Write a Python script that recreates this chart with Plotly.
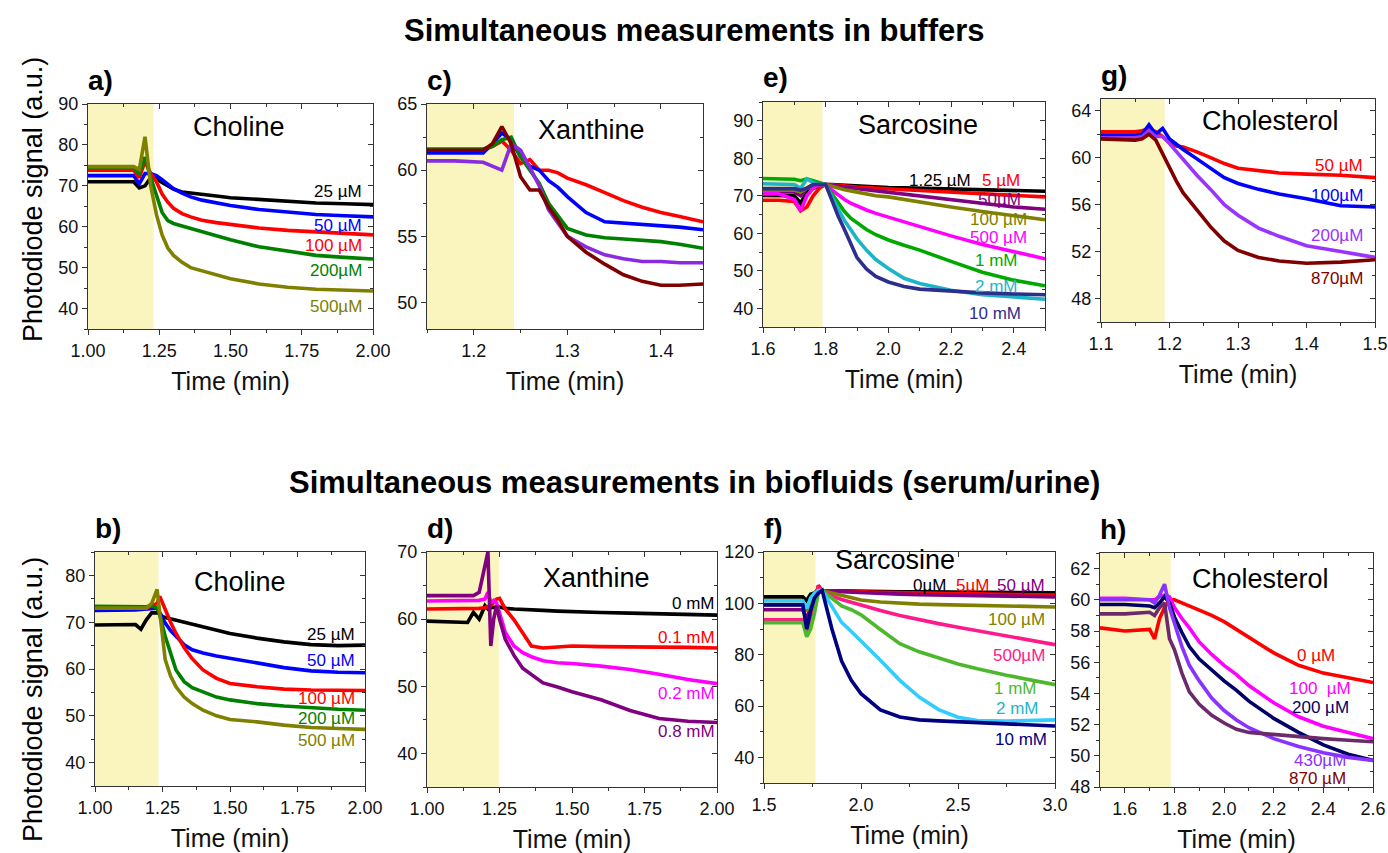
import plotly.graph_objects as go

W, H = 1388, 853
FONT = "Arial, Liberation Sans, sans-serif"

# ---------------- Panel a) Choline (buffer) ----------------
A_T = [1.00, 1.10, 1.16, 1.18, 1.20, 1.22, 1.24, 1.26, 1.28, 1.30, 1.33, 1.36, 1.40, 1.45, 1.50, 1.60, 1.70, 1.80, 1.90, 2.00]
A_25 = [71.0, 71.0, 71.0, 69.5, 70.0, 72.0, 71.8, 70.8, 69.9, 69.2, 68.5, 68.2, 67.9, 67.5, 67.1, 66.6, 66.2, 65.8, 65.6, 65.4]
A_50 = [72.5, 72.5, 72.5, 70.5, 73.0, 73.0, 72.5, 71.5, 70.3, 69.3, 68.2, 67.3, 66.5, 65.8, 65.2, 64.2, 63.5, 63.0, 62.7, 62.4]
A_100 = [73.8, 73.8, 73.8, 72.0, 76.0, 73.0, 71.0, 68.0, 66.0, 64.5, 63.2, 62.4, 61.6, 61.0, 60.5, 59.7, 59.1, 58.8, 58.3, 58.0]
A_200 = [74.4, 74.4, 74.4, 73.0, 77.0, 72.0, 67.5, 63.5, 61.5, 60.8, 60.2, 59.6, 58.6, 57.6, 56.8, 55.1, 54.0, 53.0, 52.5, 52.1]
A_500 = [74.7, 74.7, 74.7, 74.0, 82.0, 70.0, 63.0, 58.0, 54.8, 53.0, 51.3, 50.0, 49.2, 48.2, 47.3, 46.0, 45.2, 44.7, 44.4, 44.3]

# ---------------- Panel c) Xanthine (buffer) ----------------
C_T = [1.15, 1.18, 1.21, 1.22, 1.23, 1.24, 1.25, 1.26, 1.27, 1.28, 1.29, 1.30, 1.32, 1.34, 1.36, 1.38, 1.40, 1.42, 1.445]
C_100U = [61.5, 61.5, 61.5, 61.8, 62.2, 61.5, 60.5, 60.8, 60.0, 60.0, 59.8, 59.4, 58.9, 58.3, 57.7, 57.2, 56.8, 56.5, 56.1]
C_02 = [61.3, 61.3, 61.3, 62.0, 62.8, 62.3, 61.0, 60.3, 60.0, 59.2, 58.7, 58.0, 56.8, 56.1, 56.0, 55.9, 55.8, 55.7, 55.5]
C_04 = [61.6, 61.6, 61.6, 61.8, 62.3, 62.5, 61.0, 60.0, 59.0, 57.5, 56.5, 55.6, 55.1, 54.9, 54.8, 54.7, 54.6, 54.4, 54.1]
C_08 = [60.7, 60.7, 60.6, 60.3, 60.0, 62.0, 61.5, 60.2, 58.8, 57.0, 56.0, 55.0, 54.2, 53.6, 53.3, 53.1, 53.1, 53.0, 53.0]
C_16 = [61.5, 61.5, 61.5, 62.0, 63.3, 62.0, 59.5, 58.5, 58.5, 57.2, 56.2, 55.0, 53.8, 52.9, 52.1, 51.6, 51.3, 51.3, 51.4]

# ---------------- Panel e) Sarcosine (buffer) ----------------
E_T = [1.60, 1.65, 1.70, 1.72, 1.74, 1.76, 1.78, 1.80, 1.82, 1.84, 1.86, 1.88, 1.90, 1.93, 1.96, 2.00, 2.05, 2.10, 2.20, 2.30, 2.40, 2.50]
E_125U = [70.1, 70.1, 70.0, 68.0, 71.0, 72.0, 72.5, 73.0, 73.0, 72.9, 72.8, 72.7, 72.6, 72.5, 72.4, 72.2, 72.1, 72.0, 71.8, 71.6, 71.4, 71.2]
E_5U = [68.8, 68.8, 68.5, 66.0, 67.0, 70.0, 72.0, 73.0, 72.9, 72.7, 72.5, 72.4, 72.3, 72.2, 72.0, 71.9, 71.6, 71.4, 70.9, 70.5, 70.1, 69.7]
E_50U = [71.0, 71.0, 71.0, 70.0, 72.0, 73.0, 73.0, 73.0, 72.7, 72.5, 72.2, 72.0, 71.8, 71.5, 71.2, 71.0, 70.5, 70.0, 68.8, 67.8, 67.0, 66.4]
E_100U = [71.5, 71.5, 71.5, 71.0, 72.0, 72.5, 73.0, 73.0, 72.5, 72.0, 71.6, 71.3, 71.0, 70.5, 70.0, 69.7, 69.0, 68.4, 67.0, 65.8, 64.6, 63.6]
E_500U = [70.5, 70.5, 69.0, 66.0, 70.0, 72.0, 73.0, 73.0, 71.5, 70.2, 69.0, 68.0, 67.2, 66.2, 65.3, 64.3, 63.0, 61.8, 59.3, 57.0, 55.0, 53.2]
E_1M = [74.6, 74.6, 74.4, 74.0, 74.5, 74.0, 73.5, 73.0, 70.5, 68.0, 65.8, 64.0, 62.8, 61.0, 59.6, 58.2, 56.8, 55.5, 52.5, 49.6, 47.5, 46.0]
E_2M = [73.2, 73.2, 73.0, 72.0, 74.5, 73.5, 73.0, 73.0, 69.5, 66.5, 63.4, 61.0, 58.5, 55.5, 53.0, 50.6, 48.0, 46.6, 44.8, 43.6, 42.9, 42.4]
E_10M = [71.9, 71.9, 71.9, 71.5, 72.0, 73.0, 73.0, 73.0, 68.8, 64.5, 61.0, 57.0, 53.5, 50.5, 48.5, 47.0, 45.8, 45.1, 44.5, 44.1, 43.8, 43.6]

# ---------------- Panel g) Cholesterol (buffer) ----------------
G_T = [1.10, 1.13, 1.15, 1.16, 1.17, 1.18, 1.19, 1.20, 1.21, 1.22, 1.24, 1.26, 1.28, 1.30, 1.33, 1.36, 1.40, 1.45, 1.50]
G_50 = [62.2, 62.2, 62.2, 62.3, 62.5, 62.2, 61.8, 61.3, 61.0, 60.9, 60.5, 60.0, 59.5, 59.1, 58.9, 58.7, 58.6, 58.5, 58.3]
G_100 = [61.9, 61.9, 61.9, 62.0, 62.8, 62.0, 62.5, 61.6, 61.1, 60.7, 59.9, 59.1, 58.3, 57.8, 57.3, 56.9, 56.5, 55.9, 55.8]
G_200 = [61.7, 61.7, 61.7, 61.8, 62.3, 61.8, 61.8, 61.2, 60.5, 59.8, 58.5, 57.3, 56.0, 55.1, 54.0, 53.3, 52.5, 52.0, 51.5]
G_870 = [61.6, 61.5, 61.5, 61.6, 62.0, 61.5, 60.3, 59.2, 58.0, 57.0, 55.5, 54.1, 52.9, 52.1, 51.5, 51.2, 51.0, 51.1, 51.3]

# ---------------- Panel b) Choline (biofluid) ----------------
B_T = [1.00, 1.10, 1.15, 1.17, 1.19, 1.21, 1.23, 1.24, 1.25, 1.26, 1.28, 1.30, 1.33, 1.36, 1.40, 1.45, 1.50, 1.60, 1.70, 1.80, 1.90, 2.00]
B_25 = [69.4, 69.4, 69.5, 68.5, 70.5, 72.0, 72.0, 71.8, 71.2, 71.0, 70.7, 70.5, 70.0, 69.6, 69.1, 68.3, 67.6, 66.6, 65.8, 65.2, 65.0, 65.1]
B_50 = [72.5, 72.5, 72.6, 72.7, 72.8, 73.0, 73.0, 72.0, 70.8, 69.8, 68.2, 66.9, 65.2, 64.1, 63.4, 62.8, 62.3, 61.2, 60.3, 59.6, 59.3, 59.2]
B_100 = [73.0, 73.0, 73.0, 73.0, 73.0, 73.5, 74.0, 75.5, 74.1, 72.5, 70.0, 67.6, 64.6, 62.2, 59.8, 58.0, 56.9, 56.2, 55.7, 55.5, 55.5, 55.4]
B_200 = [73.4, 73.4, 73.4, 73.3, 73.3, 73.5, 73.0, 71.5, 69.1, 67.0, 63.4, 59.8, 57.3, 56.0, 55.1, 54.0, 53.4, 52.6, 52.1, 51.7, 51.4, 51.2]
B_500 = [73.0, 73.0, 73.0, 73.0, 73.0, 74.0, 77.0, 72.0, 66.0, 62.0, 58.5, 56.2, 54.0, 52.6, 51.2, 50.0, 49.2, 48.7, 48.0, 47.5, 47.3, 47.1]

# ---------------- Panel d) Xanthine (biofluid) ----------------
D_T = [1.00, 1.10, 1.14, 1.16, 1.18, 1.20, 1.21, 1.22, 1.23, 1.24, 1.25, 1.27, 1.30, 1.33, 1.36, 1.40, 1.45, 1.50, 1.60, 1.70, 1.80, 1.90, 2.00]
D_0 = [59.7, 59.5, 59.5, 61.0, 60.0, 62.0, 61.5, 61.7, 61.8, 61.8, 61.8, 61.6, 61.5, 61.4, 61.3, 61.3, 61.2, 61.1, 61.0, 60.9, 60.8, 60.7, 60.6]
D_01 = [61.5, 61.5, 61.5, 61.6, 61.6, 61.7, 61.8, 62.0, 62.5, 63.0, 63.1, 61.5, 59.9, 57.9, 56.0, 55.7, 55.8, 56.0, 55.9, 55.9, 55.8, 55.8, 55.7]
D_02 = [62.7, 62.7, 62.7, 62.7, 62.8, 63.0, 64.0, 62.5, 62.8, 62.4, 61.0, 58.0, 56.0, 55.0, 54.4, 53.8, 53.5, 53.4, 53.0, 52.5, 51.8, 51.0, 50.4]
D_08 = [63.5, 63.5, 63.5, 63.5, 64.0, 68.0, 70.0, 56.0, 60.0, 62.0, 60.0, 57.0, 54.6, 52.7, 51.7, 50.5, 49.9, 49.2, 48.0, 46.4, 45.2, 44.8, 44.6]

# ---------------- Panel f) Sarcosine (biofluid) ----------------
F_T = [1.50, 1.60, 1.70, 1.72, 1.74, 1.76, 1.78, 1.80, 1.85, 1.90, 1.95, 2.00, 2.10, 2.20, 2.30, 2.40, 2.50, 2.60, 2.75, 3.00]
F_0 = [102.5, 102.5, 102.5, 101.0, 103.5, 104.0, 105.5, 105.0, 104.9, 104.8, 104.8, 104.7, 104.6, 104.5, 104.5, 104.4, 104.3, 104.3, 104.2, 104.1]
F_5U = [93.5, 93.5, 93.5, 88.0, 95.0, 100.0, 107.0, 105.0, 104.8, 104.7, 104.6, 104.5, 104.3, 104.1, 104.0, 103.9, 103.8, 103.7, 103.5, 103.2]
F_50U = [97.5, 97.5, 97.5, 94.0, 99.0, 103.0, 105.0, 105.0, 104.7, 104.5, 104.3, 104.1, 103.8, 103.6, 103.4, 103.2, 103.1, 103.0, 102.8, 102.5]
F_100U = [99.5, 99.5, 99.5, 97.0, 100.0, 103.0, 105.0, 105.0, 104.0, 103.0, 102.1, 101.3, 100.5, 100.0, 99.7, 99.5, 99.3, 99.1, 98.9, 98.6]
F_500U = [93.6, 93.6, 93.6, 88.0, 92.0, 100.0, 106.0, 105.0, 102.8, 101.5, 100.4, 99.3, 97.2, 95.3, 93.6, 92.1, 90.7, 89.3, 87.2, 83.9]
F_1M = [92.5, 92.5, 92.5, 87.0, 90.0, 96.0, 104.0, 105.0, 102.0, 99.0, 97.5, 95.5, 89.8, 84.3, 81.1, 78.7, 76.4, 74.5, 72.0, 68.3]
F_2M = [101.0, 101.0, 101.0, 98.0, 102.0, 104.0, 105.0, 105.0, 99.0, 92.6, 89.0, 85.3, 77.8, 70.0, 63.5, 58.6, 55.6, 54.3, 54.1, 54.6]
F_10M = [99.4, 99.4, 99.4, 90.0, 97.0, 102.0, 104.0, 105.0, 90.0, 77.5, 70.0, 64.8, 58.5, 55.7, 54.6, 54.2, 53.9, 53.7, 53.3, 52.2]

# ---------------- Panel h) Cholesterol (biofluid) ----------------
H_T = [1.50, 1.60, 1.70, 1.72, 1.74, 1.76, 1.78, 1.80, 1.83, 1.86, 1.90, 1.95, 2.00, 2.05, 2.10, 2.20, 2.30, 2.40, 2.50, 2.60]
H_0 = [58.2, 58.0, 58.1, 57.5, 58.8, 59.5, 60.0, 60.0, 59.8, 59.6, 59.3, 59.0, 58.6, 58.1, 57.6, 56.6, 55.8, 55.3, 55.0, 54.7]
H_100 = [60.1, 60.1, 60.0, 60.0, 60.2, 60.3, 60.2, 59.5, 58.8, 58.2, 57.3, 56.5, 55.8, 55.2, 54.5, 53.4, 52.5, 51.9, 51.5, 51.1]
H_200 = [59.7, 59.7, 59.6, 59.5, 59.8, 60.2, 59.8, 58.9, 57.9, 57.0, 56.2, 55.5, 54.8, 54.2, 53.5, 52.4, 51.5, 50.7, 50.1, 49.7]
H_430 = [60.0, 60.0, 60.0, 59.8, 60.3, 61.0, 59.5, 58.5, 57.0, 55.8, 54.8, 53.7, 52.9, 52.3, 51.8, 51.1, 50.6, 50.2, 49.9, 49.7]
H_870 = [59.1, 59.1, 59.2, 59.0, 59.5, 59.8, 57.5, 56.8, 55.3, 54.1, 53.3, 52.6, 52.1, 51.7, 51.5, 51.35, 51.25, 51.1, 51.0, 50.9]

# ---------------- panel definitions ----------------
panels = [
    dict(letter="a)", title="Choline", title_xy=(1.53, 84.3), xr=[1.0, 2.0], yr=[35, 90], shade=1.23,
         dx=(88, 373), dy=(104, 329), xt=dict(dtick=0.25, tickformat=".2f", minor=0.125), yt=dict(dtick=10, minor=5),
         series=[(A_T, A_25, "#000000"), (A_T, A_50, "#0000FF"), (A_T, A_100, "#FF0000"),
                 (A_T, A_200, "#008000"), (A_T, A_500, "#808000")],
         labels=[("25 µM", 68.6, "#000000"), ("50 µM", 60.3, "#0000FF"), ("100 µM", 55.4, "#FF0000"),
                 ("200µM", 49.4, "#008000"), ("500µM", 40.6, "#808000")], lx=1.97),
    dict(letter="c)", title="Xanthine", title_xy=(1.326, 63.0), xr=[1.15, 1.445], yr=[48, 65], shade=1.243,
         dx=(427, 703), dy=(104, 329), xt=dict(dtick=0.1, tickformat=".1f", minor=0.05), yt=dict(dtick=5, minor=2.5),
         series=[(C_T, C_100U, "#FF0000"), (C_T, C_02, "#0000FF"), (C_T, C_04, "#008000"),
                 (C_T, C_08, "#8A2BE2"), (C_T, C_16, "#800000")],
         labels=[("100 µM", 57.4, "#FF0000"), ("0.2 mM", 55.2, "#0000FF"), ("0.4 mM", 53.8, "#008000"),
                 ("0.8 mM", 52.2, "#8A2BE2"), ("1.6 mM", 50.1, "#800000")], lx=1.447),
    dict(letter="e)", title="Sarcosine", title_xy=(2.096, 88.8), xr=[1.6, 2.5], yr=[35, 95], shade=1.79,
         dx=(763, 1045), dy=(102, 327), xt=dict(dtick=0.2, tickformat=".1f", minor=0.1), yt=dict(dtick=10, minor=5),
         series=[(E_T, E_125U, "#000000"), (E_T, E_5U, "#FF0000"), (E_T, E_50U, "#800080"),
                 (E_T, E_100U, "#808000"), (E_T, E_500U, "#FF00FF"), (E_T, E_1M, "#00A800"),
                 (E_T, E_2M, "#1EB4C8"), (E_T, E_10M, "#2E2E8C")],
         labels=[("1.25 µM", 74.0, "#000000", 2.27), ("5 µM", 74.0, "#FF0000", 2.425),
                 ("50µM", 68.9, "#800080", 2.43), ("100 µM", 63.7, "#808000", 2.45),
                 ("500 µM", 58.9, "#FF00FF", 2.45), ("1 mM", 52.6, "#00A800", 2.42),
                 ("2 mM", 45.7, "#1EB4C8", 2.42), ("10 mM", 38.6, "#2E2E8C", 2.43)], lx=None),
    dict(letter="g)", title="Cholesterol", title_xy=(1.347, 63.1), xr=[1.1, 1.5], yr=[46, 65], shade=1.193,
         dx=(1101, 1375), dy=(99, 322), xt=dict(dtick=0.1, tickformat=".1f", minor=0.05), yt=dict(dtick=4, minor=2),
         series=[(G_T, G_50, "#FF0000"), (G_T, G_100, "#0000FF"), (G_T, G_200, "#9933FF"), (G_T, G_870, "#800000")],
         labels=[("50 µM", 59.3, "#FF0000"), ("100µM", 56.8, "#0000FF"), ("200µM", 53.4, "#9933FF"),
                 ("870µM", 49.7, "#800000")], lx=1.485),
    dict(letter="b)", title="Choline", title_xy=(1.536, 78.6), xr=[1.0, 2.0], yr=[35, 85], shade=1.235,
         dx=(95, 365), dy=(552, 786), xt=dict(dtick=0.25, tickformat=".2f", minor=0.125), yt=dict(dtick=10, minor=5),
         series=[(B_T, B_25, "#000000"), (B_T, B_50, "#0000FF"), (B_T, B_100, "#FF0000"),
                 (B_T, B_200, "#008000"), (B_T, B_500, "#808000")],
         labels=[("25 µM", 67.3, "#000000"), ("50 µM", 61.9, "#0000FF"), ("100 µM", 53.6, "#FF0000"),
                 ("200 µM", 49.4, "#008000"), ("500 µM", 44.8, "#808000")], lx=1.97),
    dict(letter="d)", title="Xanthine", title_xy=(1.583, 66.1), xr=[1.0, 2.0], yr=[35, 70], shade=1.248,
         dx=(427, 717), dy=(552, 787), xt=dict(dtick=0.25, tickformat=".2f", minor=0.125), yt=dict(dtick=10, minor=5),
         series=[(D_T, D_0, "#000000"), (D_T, D_01, "#FF0000"), (D_T, D_02, "#FF00FF"), (D_T, D_08, "#800080")],
         labels=[("0 mM", 62.4, "#000000"), ("0.1 mM", 57.2, "#FF0000"), ("0.2 mM", 49.0, "#FF00FF"),
                 ("0.8 mM", 43.2, "#800080")], lx=2.0),
    dict(letter="f)", title="Sarcosine", title_xy=(2.175, 117.0), xr=[1.5, 3.0], yr=[30, 120], shade=1.766,
         dx=(764, 1055), dy=(552, 783), xt=dict(dtick=0.5, tickformat=".1f", minor=0.25), yt=dict(dtick=20, minor=10),
         series=[(F_T, F_0, "#000000"), (F_T, F_5U, "#FF0000"), (F_T, F_50U, "#800080"),
                 (F_T, F_100U, "#808000"), (F_T, F_500U, "#FF1A8C"), (F_T, F_1M, "#4DB82E"),
                 (F_T, F_2M, "#33CCFF"), (F_T, F_10M, "#000080")],
         labels=[("0µM", 107.0, "#000000", 2.45), ("5µM", 107.0, "#FF0000", 2.67),
                 ("50 µM", 107.0, "#800080", 2.96), ("100 µM", 93.7, "#808000", 2.96),
                 ("500µM", 79.5, "#FF1A8C", 2.96), ("1 mM", 66.9, "#4DB82E", 2.92),
                 ("2 mM", 59.2, "#1EB4C8", 2.93), ("10 mM", 46.9, "#000080", 2.97)], lx=None),
    dict(letter="h)", title="Cholesterol", title_xy=(2.145, 61.35), xr=[1.5, 2.6], yr=[48, 63], shade=1.785,
         dx=(1100, 1373), dy=(553, 787), xt=dict(dtick=0.2, tickformat=".1f", minor=0.1), yt=dict(dtick=2, minor=1),
         series=[(H_T, H_0, "#FF0000"), (H_T, H_100, "#FF00FF"), (H_T, H_200, "#000066"),
                 (H_T, H_430, "#8833FF"), (H_T, H_870, "#6B2A6B")],
         labels=[("0 µM", 56.45, "#FF0000", 2.455), ("100  µM", 54.3, "#FF00FF", 2.52),
                 ("200 µM", 53.1, "#000066", 2.51), ("430µM", 49.7, "#8833FF", 2.50),
                 ("870 µM", 48.56, "#800000", 2.50)], lx=None),
]

fig = go.Figure()
layout = dict(width=W, height=H, margin=dict(l=0, r=0, t=0, b=0, pad=0, autoexpand=False), paper_bgcolor="white",
              plot_bgcolor="white", showlegend=False, font=dict(family=FONT, color="#111"))
shapes, annotations = [], []

AX = "#333"
axis_common = dict(showline=True, linecolor=AX, linewidth=1.3, mirror=True, ticks="outside",
                   ticklen=5, tickwidth=1.2, tickcolor=AX, showgrid=False, zeroline=False, automargin=False,
                   tickfont=dict(size=18, family=FONT, color="#111"))
mirror_common = dict(showline=False, ticks="inside", ticklen=5, tickwidth=1.2, tickcolor=AX, showgrid=False,
                     zeroline=False, automargin=False, showticklabels=False)

NP = len(panels)
for i, p in enumerate(panels):
    n = i + 1
    xn = "x" if n == 1 else f"x{n}"
    yn = "y" if n == 1 else f"y{n}"
    xa = "xaxis" if n == 1 else f"xaxis{n}"
    ya = "yaxis" if n == 1 else f"yaxis{n}"
    xdom = [p["dx"][0] / W, p["dx"][1] / W]
    ydom = [1 - p["dy"][1] / H, 1 - p["dy"][0] / H]
    layout[xa] = dict(axis_common, domain=xdom, range=p["xr"], anchor=yn,
                      dtick=p["xt"]["dtick"], tickformat=p["xt"]["tickformat"],
                      minor=dict(dtick=p["xt"]["minor"], ticks="outside", ticklen=3, tickcolor=AX),
                      title=dict(text="Time (min)", font=dict(size=25, family=FONT, color="#111"), standoff=12))
    layout[ya] = dict(axis_common, domain=ydom, range=p["yr"], anchor=xn,
                      dtick=p["yt"]["dtick"],
                      minor=dict(dtick=p["yt"]["minor"], ticks="outside", ticklen=3, tickcolor=AX))
    # inward ticks on top and right (overlay axes)
    mx, my = n + NP, n + NP
    layout[f"xaxis{mx}"] = dict(mirror_common, overlaying=xn, side="top", anchor=yn, range=p["xr"],
                                dtick=p["xt"]["dtick"],
                                minor=dict(dtick=p["xt"]["minor"], ticks="inside", ticklen=3, tickcolor=AX))
    layout[f"yaxis{my}"] = dict(mirror_common, overlaying=yn, side="right", anchor=xn, range=p["yr"],
                                dtick=p["yt"]["dtick"],
                                minor=dict(dtick=p["yt"]["minor"], ticks="inside", ticklen=3, tickcolor=AX))
    fig.add_trace(go.Scatter(x=[], y=[], xaxis=f"x{mx}", yaxis=yn, hoverinfo="skip"))
    fig.add_trace(go.Scatter(x=[], y=[], xaxis=xn, yaxis=f"y{my}", hoverinfo="skip"))

    shapes.append(dict(type="rect", xref=xn, yref=f"{yn} domain", x0=p["xr"][0], x1=p["shade"], y0=0, y1=1,
                       fillcolor="#FAF5BE", line=dict(width=0), layer="below"))
    for (t, v, c) in p["series"]:
        fig.add_trace(go.Scatter(x=t, y=v, mode="lines", line=dict(color=c, width=3.6),
                                 xaxis=xn, yaxis=yn, hoverinfo="skip"))
    for lab in p["labels"]:
        if len(lab) == 4:
            txt, ly, col, lx = lab
        else:
            txt, ly, col = lab
            lx = p["lx"]
        annotations.append(dict(x=lx, y=ly, xref=xn, yref=yn, text=txt, showarrow=False, xanchor="right",
                                yanchor="middle", font=dict(size=17, color=col, family=FONT)))
    annotations.append(dict(x=p["title_xy"][0], y=p["title_xy"][1], xref=xn, yref=yn, text=p["title"],
                            showarrow=False, xanchor="center", yanchor="middle",
                            font=dict(size=27, color="#000", family=FONT)))
    annotations.append(dict(x=(p["dx"][0] - 2) / W, y=1 - (p["dy"][0] - 24) / H, xref="paper", yref="paper",
                            text=f"<b>{p['letter']}</b>", showarrow=False, xanchor="left", yanchor="middle",
                            font=dict(size=28, color="#000", family=FONT)))

annotations.append(dict(x=694 / W, y=1 - 31 / H, xref="paper", yref="paper", xanchor="center", yanchor="middle",
                        text="<b>Simultaneous measurements in buffers</b>", showarrow=False,
                        font=dict(size=31, color="#000", family=FONT)))
annotations.append(dict(x=694 / W, y=1 - 482 / H, xref="paper", yref="paper", xanchor="center", yanchor="middle",
                        text="<b>Simultaneous measurements in biofluids (serum/urine)</b>", showarrow=False,
                        font=dict(size=31, color="#000", family=FONT)))
for cy in (200, 700):
    annotations.append(dict(x=33 / W, y=1 - cy / H, xref="paper", yref="paper", xanchor="center", yanchor="middle",
                            text="Photodiode signal (a.u.)", showarrow=False, textangle=-90,
                            font=dict(size=27, color="#000", family=FONT)))

layout["shapes"] = shapes
layout["annotations"] = annotations
fig.update_layout(**layout)
fig.write_html("out.html", config={"displayModeBar": False},
               post_script="document.body.style.margin='0px';document.body.style.overflow='hidden';")
